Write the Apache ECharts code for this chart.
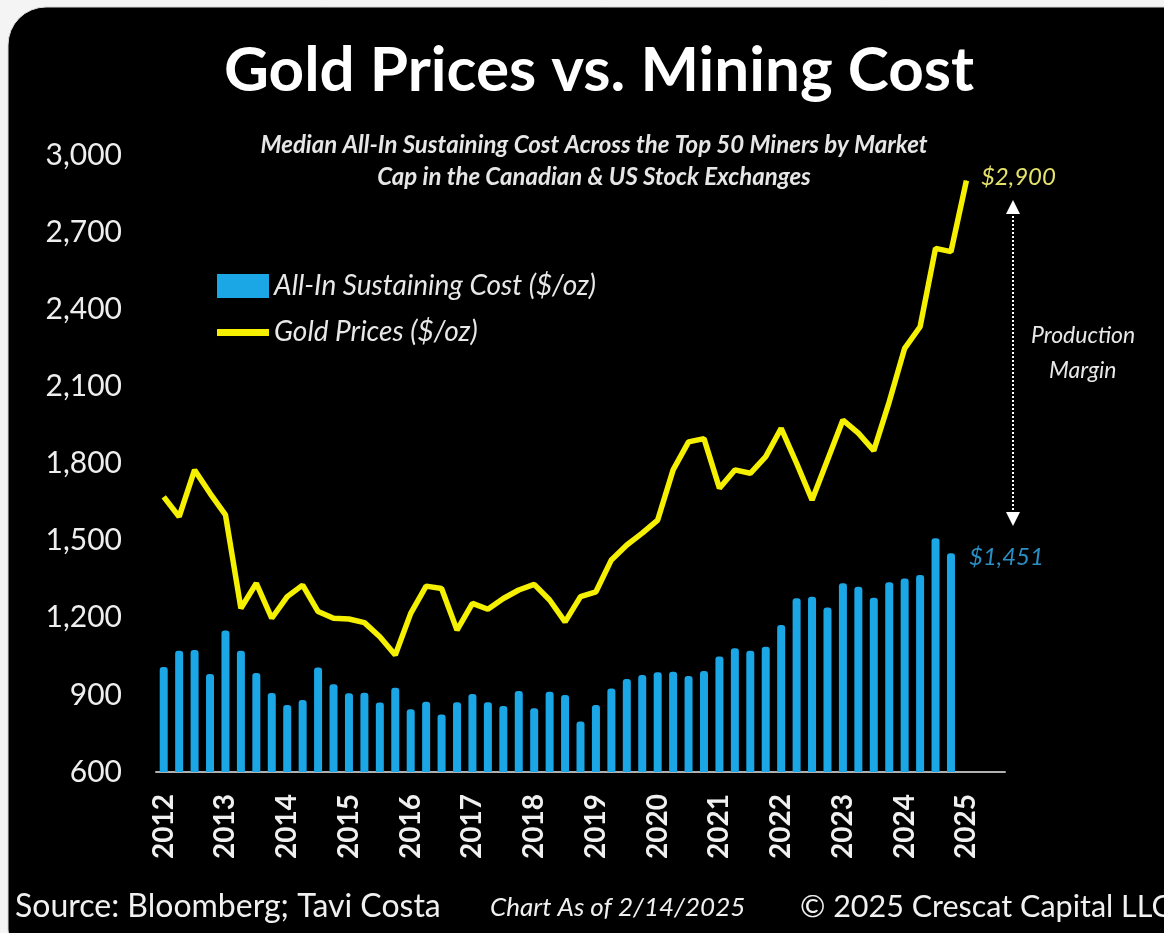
<!DOCTYPE html>
<html>
<head>
<meta charset="utf-8">
<script src="https://cdn.jsdelivr.net/npm/echarts@6/dist/echarts.min.js"></script>
<style>
html,body{margin:0;padding:0;background:#f4f4f4;overflow:hidden;}
#chart{width:1164px;height:933px;}
</style>
</head>
<body>
<div id="chart"></div>
<script>
// tick labels (one per year, first quarter)
var tickYears = ['2012','2013','2014','2015','2016','2017','2018','2019','2020','2021','2022','2023','2024','2025'];
var quarters = ['Q1','Q2','Q3','Q4'];
// extra empty quarter slots after 2025 Q1 so the axis line runs a little past the last point
var extraSlots = ['2025 Q2','2025 Q3'];

// Median all-in sustaining cost ($/oz), quarterly 2012 Q1 .. 2024 Q4
var aiscValues = [
  1008, 1072, 1075, 981,
  1150, 1072, 985, 907,
  861, 880, 1006, 941,
  906, 908, 870, 928,
  844, 873, 824, 871,
  903, 871, 857, 915,
  848, 912, 900, 796,
  861, 925, 962, 977,
  988, 990, 973, 993,
  1049, 1081, 1072, 1087,
  1172, 1276, 1282, 1240,
  1334, 1321, 1278, 1338,
  1353, 1366, 1509, 1451
];

// Gold price ($/oz), quarterly 2012 Q1 .. 2025 Q1
var goldValues = [
  1670, 1593, 1775, 1684,
  1600, 1237, 1334, 1198,
  1282, 1327, 1224, 1198,
  1195, 1181, 1126, 1055,
  1217, 1323, 1314, 1152,
  1256, 1233, 1275, 1308,
  1330, 1269, 1184, 1282,
  1301, 1425, 1483, 1529,
  1580, 1775, 1884, 1897,
  1704, 1775, 1762, 1827,
  1937, 1801, 1658, 1814,
  1969, 1918, 1850, 2040,
  2248, 2332, 2637, 2624,
  2900
];

var categories = [];
tickYears.forEach(function (y, yi) {
  if (yi < tickYears.length - 1) {
    quarters.forEach(function (q) { categories.push(y + ' ' + q); });
  } else {
    categories.push(y + ' Q1');
  }
});
extraSlots.forEach(function (s) { categories.push(s); });

var FONT = 'Lato';
var chart = echarts.init(document.getElementById('chart'));

var option = {
  backgroundColor: 'transparent',
  animation: false,
  graphic: [
    { type: 'rect', z: -10, shape: { x: 8, y: 7, width: 1200, height: 960, r: 38 },
      style: { fill: '#000000', stroke: '#d8d8d8', lineWidth: 1 } },
    // footer
    { type: 'text', left: 15, top: 891, style: { text: 'Source: Bloomberg; Tavi Costa', fill: '#f0f0f0', font: '32px ' + FONT } },
    { type: 'text', left: 490, top: 895, style: { text: 'Chart As of 2/14/2025', fill: '#f0f0f0', font: 'italic 26px ' + FONT } },
    { type: 'text', left: 800, top: 892, style: { text: '\u00A9 2025 Crescat Capital LLC', fill: '#f0f0f0', font: '30.5px ' + FONT } },
    // production margin annotation
    { type: 'line', shape: { x1: 1013, y1: 212, x2: 1013, y2: 514 },
      style: { stroke: '#ffffff', lineWidth: 2, lineDash: [2, 2] } },
    { type: 'polygon', shape: { points: [[1006, 214], [1020, 214], [1013, 200]] }, style: { fill: '#ffffff' } },
    { type: 'polygon', shape: { points: [[1006, 512], [1020, 512], [1013, 526]] }, style: { fill: '#ffffff' } },
    { type: 'text', left: 1031, top: 324, style: { text: 'Production', fill: '#e8e8e8', font: 'italic 23px ' + FONT } },
    { type: 'text', left: 1049, top: 359, style: { text: 'Margin', fill: '#e8e8e8', font: 'italic 23px ' + FONT } }
  ],
  title: [
    { text: 'Gold Prices vs. Mining Cost', left: 594, top: 35, textAlign: 'center',
      textStyle: { color: '#ffffff', fontFamily: FONT, fontWeight: 'bold', fontSize: 62 } },
    { text: 'Median All-In Sustaining Cost Across the Top 50 Miners by Market\nCap in the Canadian & US Stock Exchanges',
      left: 589, top: 124, textAlign: 'center',
      textStyle: { color: '#e6e6e6', fontFamily: FONT, fontStyle: 'italic', fontWeight: 'bold', fontSize: 24, lineHeight: 32, align: 'center' } }
  ],
  legend: {
    orient: 'vertical', left: 212, top: 267, itemWidth: 52, itemHeight: 24, itemGap: 18,
    textStyle: { color: '#e8e8e8', fontFamily: FONT, fontStyle: 'italic', fontSize: 28 },
    data: [
      { name: 'All-In Sustaining Cost ($/oz)', icon: 'rect' },
      { name: 'Gold Prices ($/oz)', icon: 'path://M0,9 H52 V16 H0 Z M0,0 H0.01 V24 H0 Z' }
    ]
  },
  grid: { left: 156, right: 159, top: 155, bottom: 161, containLabel: false },
  xAxis: {
    type: 'category', data: categories, boundaryGap: true,
    axisLine: { lineStyle: { color: '#b0b0b0', width: 2 } },
    axisTick: { show: false },
    axisLabel: {
      interval: 0, rotate: 90, margin: 22, color: '#f0f0f0', fontFamily: FONT, fontWeight: 'bold', fontSize: 28,
      formatter: function (v, i) { return (i % 4 === 0) ? v.split(' ')[0] : ''; }
    },
    splitLine: { show: false }
  },
  yAxis: {
    type: 'value', min: 600, max: 3000, interval: 300,
    axisLine: { show: false }, axisTick: { show: false }, splitLine: { show: false },
    axisLabel: { margin: 34, color: '#eeeeee', fontFamily: FONT, fontSize: 30,
      formatter: function (v) { return v.toLocaleString('en-US'); } }
  },
  series: [
    {
      name: 'All-In Sustaining Cost ($/oz)', type: 'bar', barWidth: 8,
      itemStyle: { color: '#1ba6e6', borderRadius: [3, 3, 0, 0] },
      data: aiscValues.map(function (v, i) {
        if (i === aiscValues.length - 1) {
          return { value: v, label: { show: true, position: [22, -8], formatter: '$1,451',
            color: '#2a8fc4', fontFamily: FONT, fontStyle: 'italic', fontSize: 24 } };
        }
        return v;
      })
    },
    {
      name: 'Gold Prices ($/oz)', type: 'line', symbol: 'none', smooth: false,
      lineStyle: { color: '#f4f000', width: 5.5 }, itemStyle: { color: '#f4f000' },
      data: goldValues.map(function (v, i) {
        if (i === goldValues.length - 1) {
          return { value: v, symbol: 'circle', symbolSize: 1,
            label: { show: true, position: 'right', distance: 14, offset: [0, -3], formatter: '$2,900',
              color: '#e6e36a', fontFamily: FONT, fontStyle: 'italic', fontSize: 24 } };
        }
        return v;
      })
    }
  ]
};
chart.setOption(option);
</script>
</body>
</html>
